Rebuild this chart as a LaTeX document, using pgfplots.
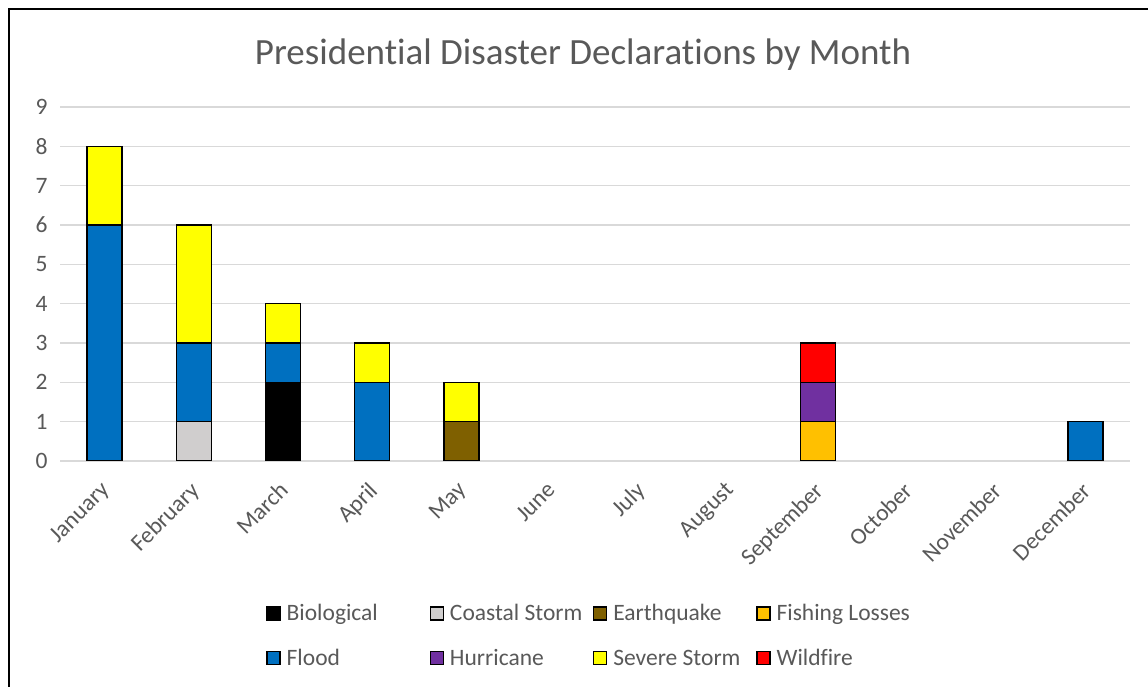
\documentclass[border=0pt]{standalone}
\usepackage{pgfplots}
\pgfplotsset{compat=1.18}
\usepackage{fontspec}
\setmainfont{Carlito}[Ligatures=NoCommon]
\definecolor{gridc}{HTML}{D9D9D9}
\definecolor{labc}{HTML}{595959}
\definecolor{cbio}{HTML}{000000}
\definecolor{ccoast}{HTML}{D0CECE}
\definecolor{cquake}{HTML}{7F6000}
\definecolor{cfish}{HTML}{FFC000}
\definecolor{cflood}{HTML}{0070C0}
\definecolor{churr}{HTML}{7030A0}
\definecolor{csevere}{HTML}{FFFF00}
\definecolor{cfire}{HTML}{FF0000}
\pgfplotsset{
  legsq/.style={legend image code/.code={\draw[##1, draw=black, line width=1.3pt] (0pt,-6.5pt) rectangle (13pt,6.5pt);}},
  barsty/.style={draw=black, line width=1.5pt, legsq},
}
\newcommand{\lent}[1]{\makebox[143pt][l]{\hspace{3pt}#1}}
\begin{document}
\begin{tikzpicture}
\useasboundingbox (0pt,0pt) rectangle (1148pt,687pt);
\fill[white] (0pt,0pt) rectangle (1148pt,687pt);
\draw[line width=2pt, line cap=rect] (9pt,0pt) -- (9pt,678pt) -- (1148pt,678pt);
\node[font=\fontsize{37}{44}\selectfont, text=labc] at (583pt,632pt) {Presidential Disaster Declarations by Month};
\begin{axis}[
  at={(60pt,226pt)}, anchor=south west,
  scale only axis, width=1070pt, height=354pt,
  ybar stacked, bar width=35pt,
  xmin=-0.5, xmax=11.5, ymin=0, ymax=9,
  xtick={0,...,11},
  xticklabels={January,February,March,April,May,June,July,August,September,October,November,December},
  ytick={0,...,9},
  ymajorgrids, grid style={color=gridc, line width=1.5pt},
  axis line style={draw=none},
  major tick length=0pt,
  tick label style={font=\fontsize{23.5}{28}\selectfont, text=labc},
  xticklabel style={xshift=-5pt, yshift=-18pt, rotate=45, anchor=north east, inner sep=1pt},
  yticklabel style={xshift=-9pt},
  /pgf/number format/assume math mode=true,
  legend columns=4,
  legend style={at={(0.5,-0.391)}, anchor=north, xshift=-2pt, draw=none, fill=none,
    font=\fontsize{23.5}{28}\selectfont, text=labc, row sep=21pt,
    nodes={inner sep=3pt}},
]
\addplot[barsty, fill=cbio] coordinates {(0,0) (1,0) (2,2) (3,0) (4,0) (8,0) (11,0)};
\addlegendentry{\lent{Biological}}
\addplot[barsty, fill=ccoast] coordinates {(0,0) (1,1) (2,0) (3,0) (4,0) (8,0) (11,0)};
\addlegendentry{\lent{Coastal Storm}}
\addplot[barsty, fill=cquake] coordinates {(0,0) (1,0) (2,0) (3,0) (4,1) (8,0) (11,0)};
\addlegendentry{\lent{Earthquake}}
\addplot[barsty, fill=cfish] coordinates {(0,0) (1,0) (2,0) (3,0) (4,0) (8,1) (11,0)};
\addlegendentry{\lent{Fishing Losses}}
\addplot[barsty, fill=cflood] coordinates {(0,6) (1,2) (2,1) (3,2) (4,0) (8,0) (11,1)};
\addlegendentry{\lent{Flood}}
\addplot[barsty, fill=churr] coordinates {(0,0) (1,0) (2,0) (3,0) (4,0) (8,1) (11,0)};
\addlegendentry{\lent{Hurricane}}
\addplot[barsty, fill=csevere] coordinates {(0,2) (1,3) (2,1) (3,1) (4,1) (8,0) (11,0)};
\addlegendentry{\lent{Severe Storm}}
\addplot[barsty, fill=cfire] coordinates {(0,0) (1,0) (2,0) (3,0) (4,0) (8,1) (11,0)};
\addlegendentry{\lent{Wildfire}}
\end{axis}
\end{tikzpicture}
\end{document}
